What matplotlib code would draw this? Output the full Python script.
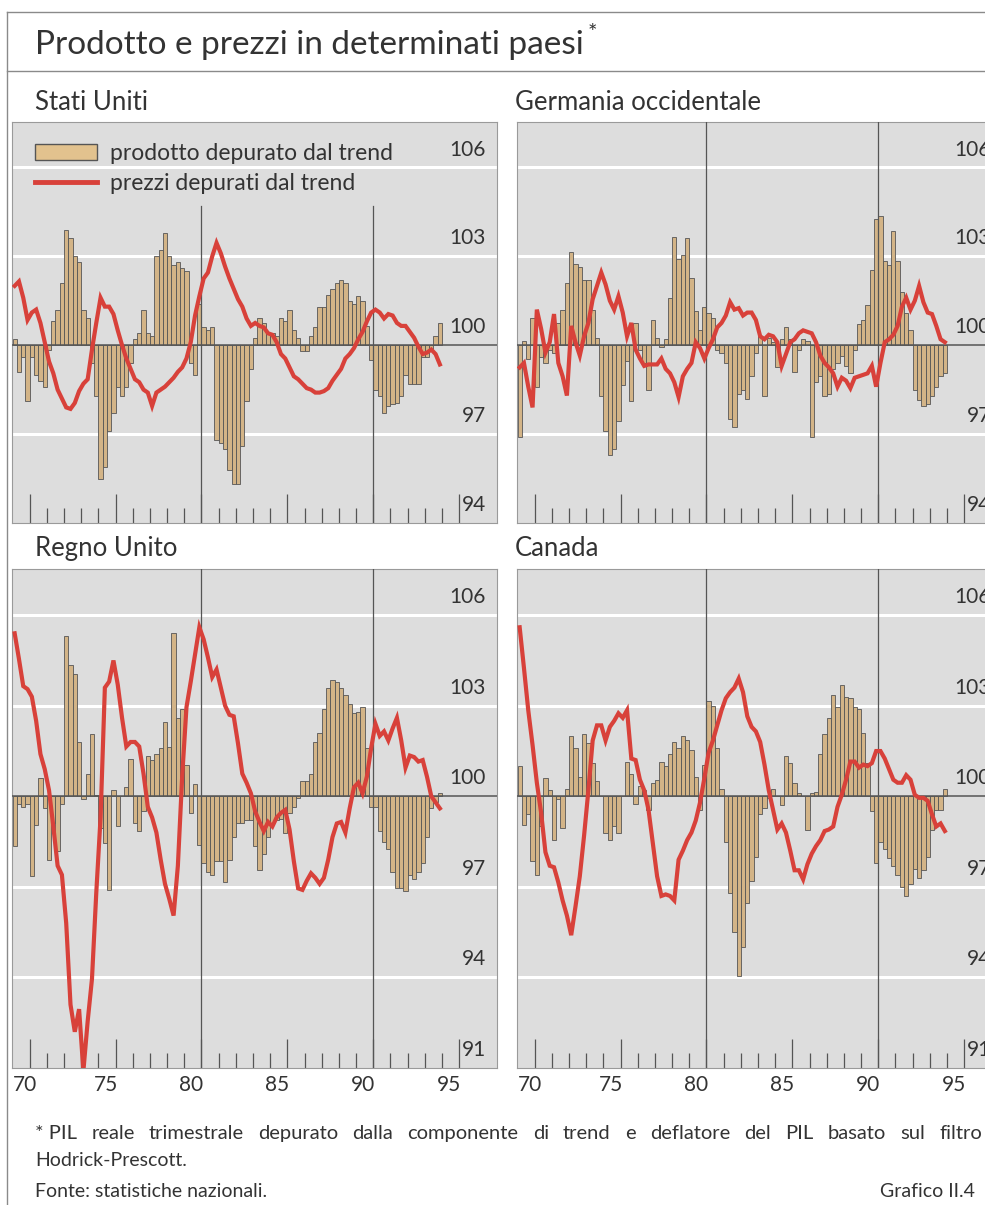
import matplotlib
matplotlib.use("Agg")
import matplotlib.pyplot as plt
from matplotlib.patches import Patch
from matplotlib.lines import Line2D
import numpy as np

plt.rcParams['font.family'] = ['Lato', 'DejaVu Sans']

# quarterly data 1970Q1-1994Q4, deviations from trend (index, trend = 100)
years = [70, 75, 80, 85, 90, 95]

us_output = [0.2, -0.9, -0.4, -1.9, -0.4, -1.0, -1.2, -1.4, -0.15, 0.8,
             1.2, 2.1, 3.9, 3.6, 3.0, 2.8, 1.2, 0.9, -0.6, -1.7,
             -4.5, -4.1, -2.9, -2.3, -1.4, -1.7, -1.4, -0.6, 0.2, 0.4,
             1.2, 0.4, 0.3, 3.0, 3.2, 3.8, 3.0, 2.7, 2.8, 2.6,
             2.5, -0.6, -1.0, 1.4, 0.6, 0.5, 0.6, -3.2, -3.3, -3.5,
             -4.2, -4.7, -4.7, -3.4, -1.9, -0.8, 0.25, 0.9, 0.75, 0.4,
             0.4, 0.3, 0.9, 0.8, 1.2, 0.5, 0.25, -0.2, -0.2, 0.3,
             0.6, 1.3, 1.3, 1.7, 1.9, 2.1, 2.2, 2.1, 1.5, 1.4,
             1.65, 1.5, 0.65, -0.5, -1.5, -1.7, -2.3, -2.05, -2.0, -1.95,
             -1.7, -1.0, -1.3, -1.3, -1.3, -0.4, -0.4, -0.15, 0.3, 0.75]
us_prices = [2.0, 2.15, 1.6, 0.85, 1.1, 1.2, 0.75, 0.1, -0.55, -0.95,
             -1.5, -1.8, -2.1, -2.15, -1.95, -1.55, -1.3, -1.15, -0.15, 0.75,
             1.6, 1.3, 1.3, 1.05, 0.5, 0.0, -0.45, -0.8, -1.15, -1.25,
             -1.5, -1.6, -2.05, -1.6, -1.5, -1.4, -1.25, -1.1, -0.9, -0.75,
             -0.45, 0.1, 1.0, 1.65, 2.25, 2.45, 3.0, 3.45, 3.1, 2.65,
             2.25, 1.9, 1.55, 1.3, 0.9, 0.65, 0.75, 0.65, 0.6, 0.4,
             0.35, 0.1, -0.3, -0.45, -0.75, -1.05, -1.15, -1.3, -1.45, -1.5,
             -1.6, -1.6, -1.55, -1.45, -1.2, -1.0, -0.8, -0.45, -0.3, -0.1,
             0.2, 0.45, 0.8, 1.1, 1.2, 1.1, 0.9, 1.05, 1.0, 0.75,
             0.65, 0.65, 0.45, 0.25, -0.05, -0.3, -0.25, -0.15, -0.3, -0.65]

de_output = [-3.1, 0.15, -0.45, 0.9, -1.4, -0.4, -0.6, -0.15, -0.25, 0.75,
             1.2, 2.1, 3.15, 2.75, 2.65, 2.2, 2.2, 1.2, 0.25, -1.7,
             -2.9, -3.7, -3.5, -2.55, -1.35, -0.55, -1.9, 0.75, -0.15, -0.6,
             -1.5, 0.85, 0.25, -0.05, 0.2, 1.6, 3.65, 2.9, 3.05, 3.6,
             2.25, 1.15, 0.5, 1.3, 1.1, 0.9, -0.15, -0.25, -0.6, -2.5,
             -2.75, -1.65, -1.5, -1.8, -1.05, -0.25, 0.3, -1.7, 0.25, 0.1,
             -0.75, 0.2, 0.6, 0.2, -0.9, -0.15, 0.2, 0.15, -3.1, -1.25,
             -1.05, -1.7, -1.65, -0.8, -0.6, -0.35, -0.7, -0.95, -0.15, 0.7,
             0.85, 1.35, 2.55, 4.25, 4.35, 2.85, 2.7, 3.85, 2.85, 1.8,
             1.1, 0.5, -1.5, -1.85, -2.05, -2.0, -1.7, -1.4, -1.05, -0.95]
de_prices = [-0.75, -0.6, -1.4, -2.1, 1.2, 0.55, -0.25, 0.1, 1.05, -0.6,
             -1.05, -1.7, 0.65, 0.1, -0.35, 0.3, 0.75, 1.55, 2.0, 2.45,
             2.05, 1.5, 1.2, 1.65, 1.1, 0.3, 0.75, -0.15, -0.45, -0.7,
             -0.65, -0.65, -0.65, -0.45, -0.8, -0.95, -1.25, -1.75, -1.05, -0.8,
             -0.6, 0.1, -0.1, -0.45, -0.1, 0.2, 0.6, 0.75, 1.0, 1.45,
             1.2, 1.25, 1.0, 1.1, 1.1, 0.85, 0.3, 0.2, 0.35, 0.3,
             0.1, -0.7, -0.3, 0.1, 0.2, 0.4, 0.5, 0.45, 0.4, 0.1,
             -0.35, -0.6, -0.75, -0.95, -1.4, -1.1, -1.2, -1.45, -1.1, -1.05,
             -1.0, -0.95, -0.7, -1.4, -0.6, 0.1, 0.2, 0.35, 0.65, 1.3,
             1.6, 1.2, 1.5, 2.0, 1.45, 1.1, 1.05, 0.65, 0.2, 0.1]

uk_output = [-1.65, -0.25, -0.35, -0.25, -2.65, -0.95, 0.6, -0.4, -2.1, -0.9,
             -1.8, -0.25, 5.3, 4.35, 4.05, 1.8, -0.1, 0.75, 2.05, 0.05,
             -1.05, -1.55, -3.1, 0.2, -1.0, 0.0, 0.3, 1.25, -0.9, -1.15,
             -0.5, 1.35, 1.2, 1.4, 1.6, 2.45, 1.65, 5.4, 2.6, 2.9,
             1.05, -0.55, 0.4, -1.6, -2.2, -2.5, -2.6, -2.15, -2.15, -2.85,
             -2.1, -1.35, -0.9, -0.9, -0.8, -0.8, -1.65, -2.45, -1.9, -1.35,
             -0.9, -0.8, -0.75, -1.2, -0.55, -0.35, -0.05, 0.5, 0.5, 0.75,
             1.8, 2.1, 2.9, 3.6, 3.85, 3.8, 3.6, 3.35, 3.05, 2.75,
             2.8, 2.95, 1.6, -0.35, -0.35, -1.15, -1.5, -1.75, -2.5, -3.05,
             -3.05, -3.15, -2.6, -2.75, -2.5, -2.2, -1.35, -0.4, -0.2, 0.1]
uk_prices = [5.4, 4.55, 3.65, 3.55, 3.3, 2.5, 1.4, 0.9, 0.2, -1.0,
             -2.3, -2.6, -4.2, -6.9, -7.8, -7.05, -9.1, -7.45, -6.05, -3.2,
             -0.7, 3.6, 3.8, 4.5, 3.7, 2.6, 1.65, 1.8, 1.8, 1.65,
             0.75, -0.35, -0.7, -1.2, -2.1, -2.9, -3.4, -3.95, -2.3, 0.65,
             2.95, 3.8, 4.7, 5.6, 5.2, 4.6, 3.95, 4.2, 3.6, 3.0,
             2.7, 2.65, 1.75, 0.75, 0.45, 0.1, -0.5, -0.85, -1.15, -0.85,
             -1.0, -0.7, -0.55, -0.45, -1.1, -2.15, -3.05, -3.1, -2.8, -2.55,
             -2.7, -2.9, -2.7, -2.1, -1.35, -0.9, -0.85, -1.2, -0.4, 0.3,
             0.45, 0.1, 0.65, 1.6, 2.4, 2.0, 2.15, 1.85, 2.25, 2.6,
             1.85, 0.95, 1.35, 1.3, 1.15, 1.2, 0.65, 0.0, -0.2, -0.4]

ca_output = [1.0, -0.95, -0.6, -2.15, -2.6, -1.0, 0.6, 0.2, -1.45, -0.1,
             -1.05, 0.25, 2.0, 1.6, 0.65, 2.05, 1.75, 1.1, 0.5, 0.0,
             -1.2, -1.45, -1.0, -1.2, 0.0, 1.15, 0.75, -0.25, 0.35, 0.2,
             -0.45, 0.45, 0.55, 1.15, 1.0, 1.4, 1.8, 1.6, 2.0, 1.85,
             1.55, 0.65, -0.45, 1.05, 3.15, 3.0, 1.6, 0.25, -1.5, -3.2,
             -4.5, -5.95, -5.0, -3.55, -2.8, -2.0, -0.6, -0.4, -0.05, 0.25,
             0.0, -0.3, 1.35, 1.1, 0.45, 0.1, 0.0, -1.1, 0.1, 0.15,
             1.4, 2.05, 2.6, 3.35, 2.95, 3.7, 3.3, 3.25, 2.95, 2.9,
             2.1, 1.1, -0.5, -2.2, -1.5, -1.75, -2.05, -2.3, -2.6, -3.0,
             -3.3, -2.9, -2.4, -2.7, -2.45, -2.0, -1.1, -0.45, -0.45, 0.25]
ca_prices = [5.6, 4.25, 2.85, 1.7, 0.45, -0.55, -1.85, -2.3, -2.35, -2.85,
             -3.45, -3.95, -4.6, -3.65, -2.65, -1.3, 0.2, 1.85, 2.35, 2.35,
             1.85, 2.3, 2.5, 2.75, 2.6, 2.85, 1.25, 1.2, 0.55, 0.2,
             -0.45, -1.55, -2.65, -3.3, -3.25, -3.3, -3.45, -2.1, -1.8, -1.45,
             -1.2, -0.8, -0.2, 0.6, 1.45, 1.85, 2.35, 2.85, 3.25, 3.45,
             3.6, 3.9, 3.45, 2.65, 2.3, 2.15, 1.8, 1.05, 0.2, -0.45,
             -1.1, -0.9, -1.2, -1.8, -2.45, -2.45, -2.75, -2.25, -1.9, -1.65,
             -1.45, -1.15, -1.1, -1.0, -0.35, 0.05, 0.55, 1.15, 1.15, 0.95,
             1.05, 1.0, 1.1, 1.5, 1.5, 1.25, 0.9, 0.55, 0.45, 0.45,
             0.7, 0.55, 0.05, -0.05, -0.05, -0.15, -0.6, -1.0, -0.9, -1.15]

panels = [
    ("Stati Uniti", us_output, us_prices, [94, 97, 100, 103, 106], 94),
    ("Germania occidentale", de_output, de_prices, [94, 97, 100, 103, 106], 94),
    ("Regno Unito", uk_output, uk_prices, [91, 94, 97, 100, 103, 106], 91),
    ("Canada", ca_output, ca_prices, [91, 94, 97, 100, 103, 106], 91),
]

BG = '#dddddd'
BAR = '#d3b487'
BAR_EDGE = '#555555'
RED = '#d8413a'
TXT = '#333333'
W, H = 985, 1205

fig = plt.figure(figsize=(W / 100, H / 100), dpi=100)
fig.patch.set_facecolor('white')


def px_axes(left, top, right, bottom):
    return fig.add_axes([left / W, 1 - bottom / H, (right - left) / W, (bottom - top) / H])


# pixel boxes of the four panels (the right-hand column runs past the page edge)
boxes = [(12, 122, 497, 523), (517, 122, 1002, 523),
         (12, 569, 497, 1068), (517, 569, 1002, 1068)]
title_pos = [(35, 102), (515, 102), (35, 549), (515, 549)]

for k, (name, output, prices, ylabels, ymin) in enumerate(panels):
    ax = px_axes(*boxes[k])
    ax.set_facecolor(BG)
    n = len(output)
    xb = 1970 + 0.25 * np.arange(n)
    ax.set_xlim(1969.97, 1998.2)
    ax.set_ylim(ymin, 107.53)

    for v in ylabels:
        if v != 100 and v != ymin:
            ax.axhline(v, color='white', lw=2.2, zorder=1)
        ax.text(1997.55, v + 0.6, str(v), ha='right', va='center',
                fontsize=15, color=TXT, zorder=6)

    ax.bar(xb, output, bottom=100, width=0.25, align='edge', color=BAR,
           edgecolor=BAR_EDGE, linewidth=0.6, zorder=2)
    ax.axhline(100, color='#555555', lw=1.1, zorder=3)

    vtop = 104.7 if k == 0 else 108
    for xv in (1981, 1991):
        ax.plot([xv, xv], [ymin, vtop], color='#555555', lw=0.9, zorder=3)

    ax.plot(xb + 0.125, 100 + np.array(prices), color=RED, lw=3.0,
            solid_joinstyle='miter', zorder=5)

    ax.set_xticks(np.arange(1971, 1997, 5))
    ax.set_xticks(np.arange(1971, 1996), minor=True)
    ax.tick_params(axis='x', which='major', direction='in', length=21,
                   width=0.9, color='#555555', labelbottom=False)
    ax.tick_params(axis='x', which='minor', direction='in', length=10.5,
                   width=0.9, color='#555555')
    ax.set_yticks([])
    for s in ax.spines.values():
        s.set_color('#9a9a9a')
        s.set_linewidth(0.8)

    fig.text(title_pos[k][0] / W, 1 - title_pos[k][1] / H, name,
             fontsize=18.5, color=TXT, va='center', ha='left')

    if k >= 2:
        for yr in years:
            xpix = boxes[k][0] + (yr + 0.45 - 70 + (0.3 if yr == 70 else 0)) * 17.18
            fig.text(xpix / W, 1 - 1085 / H, str(yr), fontsize=15,
                     color=TXT, ha='center', va='center')

    if k == 0:
        handles = [Patch(facecolor='#e2c28e', edgecolor=BAR_EDGE, linewidth=1.0),
                   Line2D([0], [0], color=RED, lw=3.5)]
        leg = ax.legend(handles, ['prodotto depurato dal trend', 'prezzi depurati dal trend'],
                        loc='upper left', bbox_to_anchor=(0.047, 0.948), frameon=False,
                        fontsize=16.5, handlelength=2.7, handletextpad=0.6,
                        labelspacing=0.42, borderaxespad=0, borderpad=0)
        for t in leg.get_texts():
            t.set_color(TXT)

# frame around the chart
frame = dict(color='#8a8a8a', lw=1.0, transform=fig.transFigure)
fig.add_artist(Line2D([7 / W, 1], [1 - 12 / H] * 2, **frame))
fig.add_artist(Line2D([7 / W, 1], [1 - 71 / H] * 2, **frame))
fig.add_artist(Line2D([7 / W] * 2, [0, 1 - 12 / H], **frame))

title = fig.text(35 / W, 1 - 54 / H, "Prodotto e prezzi in determinati paesi", fontsize=24,
                 color=TXT, va='baseline', ha='left')
fig.canvas.draw()
tx1 = title.get_window_extent(fig.canvas.get_renderer()).x1
fig.text((tx1 + 4) / W, 1 - 33 / H, "*", fontsize=16, color=TXT, va='center', ha='left')


def justified(words, x0, x1, ypix, **kw):
    texts = [fig.text(0, 1 - ypix / H, w, va='baseline', ha='left', **kw) for w in words]
    fig.canvas.draw()
    r = fig.canvas.get_renderer()
    widths = [t.get_window_extent(r).width for t in texts]
    gap = (x1 - x0 - sum(widths)) / (len(words) - 1)
    x = x0
    for t, w in zip(texts, widths):
        t.set_x(x / W)
        x += w + gap


note = ["* PIL", "reale", "trimestrale", "depurato", "dalla", "componente", "di", "trend",
        "e", "deflatore", "del", "PIL", "basato", "sul", "filtro"]
justified(note, 35, 982, 1139, fontsize=14.5, color=TXT)
fig.text(35 / W, 1 - 1166 / H, "Hodrick-Prescott.", fontsize=14, color=TXT, va='baseline')
fig.text(35 / W, 1 - 1197 / H, "Fonte: statistiche nazionali.", fontsize=14, color=TXT, va='baseline')
fig.text(975 / W, 1 - 1197 / H, "Grafico II.4", fontsize=14, color=TXT, va='baseline', ha='right')

fig.savefig("out.png", dpi=100, facecolor='white')
